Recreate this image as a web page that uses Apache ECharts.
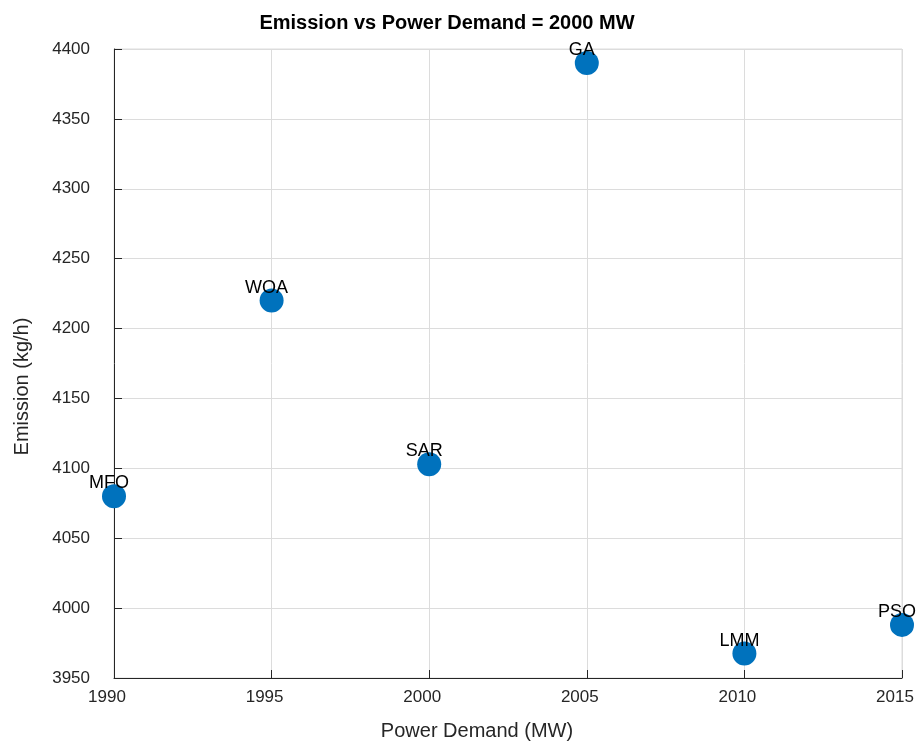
<!DOCTYPE html>
<html>
<head>
<meta charset="utf-8">
<script src="https://cdn.jsdelivr.net/npm/echarts@6/dist/echarts.min.js"></script>
<style>
html,body{margin:0;padding:0;background:#fff;overflow:hidden;width:919px;height:747px;}
#chart{position:absolute;left:0;top:0;width:919px;height:747px;}
</style>
</head>
<body>
<div id="chart"></div>
<script>
const methods = ['MFO', 'WOA', 'SAR', 'GA', 'LMM', 'PSO'];
const powerDemand = [1990, 1995, 2000, 2005, 2010, 2015];
const emission = [4080, 4220, 4103, 4390, 3967.5, 3988];
const xTicks = [1990, 1995, 2000, 2005, 2010, 2015];
const yTicks = [3950, 4000, 4050, 4100, 4150, 4200, 4250, 4300, 4350, 4400];

const FONT = '"Liberation Sans", Arial, Helvetica, sans-serif';
const chart = echarts.init(document.getElementById('chart'), null, {renderer: 'canvas', width: 919, height: 747});

const points = powerDemand.map((x, i) => ({value: [x, emission[i]], name: methods[i]}));

chart.setOption({
  animation: false,
  backgroundColor: '#ffffff',
  title: {
    text: 'Emission vs Power Demand = 2000 MW',
    left: 442, top: 8, textAlign: 'center',
    textStyle: {fontFamily: FONT, fontSize: 20, fontWeight: 'bold', color: '#000'}
  },
  grid: {
    left: 114, right: 17, top: 49, bottom: 69,
    outerBoundsMode: 'none',
    show: true, borderColor: '#dcdcdc', borderWidth: 1, containLabel: false
  },
  xAxis: {
    type: 'value',
    min: xTicks[0], max: xTicks[xTicks.length - 1], interval: 5,
    name: 'Power Demand (MW)',
    nameLocation: 'middle', nameGap: 43,
    nameTextStyle: {fontFamily: FONT, fontSize: 20, color: '#262626', padding: [0, 62, 0, 0]},
    axisLine: {show: true, onZero: false, lineStyle: {color: '#262626', width: 1}},
    axisTick: {show: true, inside: true, length: 8, lineStyle: {color: '#262626'}},
    axisLabel: {fontFamily: FONT, fontSize: 17, color: '#262626', margin: 11, padding: [0, 14, 0, 0],
      hideOverlap: false, formatter: v => String(v)},
    splitLine: {show: true, lineStyle: {color: '#dcdcdc', width: 1}}
  },
  yAxis: {
    type: 'value',
    min: yTicks[0], max: yTicks[yTicks.length - 1], interval: 50,
    name: 'Emission (kg/h)',
    nameLocation: 'middle', nameGap: 82, nameRotate: 90,
    nameTextStyle: {fontFamily: FONT, fontSize: 20, color: '#262626', padding: [0, 46, 0, 0]},
    axisLine: {show: true, onZero: false, lineStyle: {color: '#262626', width: 1}},
    axisTick: {show: true, inside: true, length: 8, lineStyle: {color: '#262626'}},
    axisLabel: {fontFamily: FONT, fontSize: 17, color: '#262626', margin: 24, padding: [0, 0, 8, 0],
      formatter: v => String(v)},
    splitLine: {show: true, lineStyle: {color: '#dcdcdc', width: 1}}
  },
  series: [{
    type: 'scatter',
    data: points,
    symbol: 'circle',
    symbolSize: 24,
    itemStyle: {color: '#0072BD', opacity: 1},
    label: {
      show: true,
      position: 'inside',
      offset: [-5, -13],
      formatter: p => p.name,
      fontFamily: FONT, fontSize: 18, color: '#000'
    },
    z: 5
  }]
});
</script>
</body>
</html>
